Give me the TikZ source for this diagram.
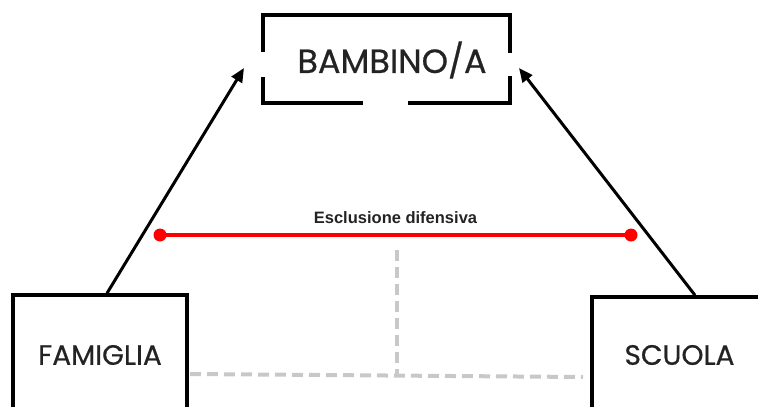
\documentclass[tikz,border=0pt]{standalone}
\usepackage{fontspec}
\setmainfont{Liberation Sans}
\newfontfamily\gothic[FakeBold=0.6]{Poppins}
\usetikzlibrary{arrows.meta,positioning,calc}
\definecolor{dashgray}{RGB}{200,200,200}
\definecolor{inkgray}{RGB}{35,35,35}

\begin{document}
\begin{tikzpicture}[
  x=1pt, y=-1pt,
  frame/.style={draw=black, line width=3.5pt, line join=miter},
  actor/.style={draw=black, line width=3.5pt, inner sep=0pt, text=inkgray, font=\gothic\fontsize{28}{32}\selectfont},
  childtext/.style={inner sep=0pt, text=inkgray, font=\gothic\fontsize{33.5}{38}\selectfont},
  link/.style={draw=black, line width=3pt, -{Triangle[length=14pt, width=12pt]}},
  excl/.style={draw=red, line width=4pt},
  exclabel/.style={font=\bfseries\fontsize{16.5}{18}\selectfont, text=inkgray},
  hidden/.style={draw=dashgray, line width=4pt, dash pattern=on 11pt off 6pt}
]
\useasboundingbox (0,0) rectangle (758,407);

% the child, in a broken frame
\node[childtext] (bambino) at (392,60) {BAMBINO/A};
\coordinate (bnw) at (263,15);
\coordinate (bse) at (510,103);
\draw[frame] (263,52) -- (bnw) -- (510,15) -- (510,53);
\draw[frame] (263,77) -- (263,103) -- (363,103);
\draw[frame] (408,103) -- (bse) -- (510,76);

% family and school
\node[actor, minimum width=174pt, minimum height=120pt] (famiglia) at (100,355) {FAMIGLIA};
\node[actor, minimum width=175pt, minimum height=116pt] (scuola) at (679.5,355) {SCUOLA};

% arrows towards the child
\coordinate (tipL) at (244,68);
\coordinate (tipR) at (519,68);
\draw[link] ($(famiglia.north)+(7,0)$) -- (tipL);
\draw[link] ($(scuola.north)+(15.5,0)$) -- (tipR);

% defensive exclusion
\coordinate (exL) at (160,235);
\coordinate (exR) at (631,235);
\draw[excl] (exL) -- (exR) node[exclabel, midway, yshift=17pt] {Esclusione difensiva};
\fill[red] (exL) circle (6.5);
\fill[red] (exR) circle (6.5);

% grey dashed link
\coordinate (dashT) at (397,250);
\coordinate (dashM) at (397,375);
\coordinate (dashL) at (190,374);
\coordinate (dashR) at (583,377);
\draw[hidden] (dashT) -- (dashM);
\draw[hidden] (dashL) -- (dashR);
\end{tikzpicture}
\end{document}
